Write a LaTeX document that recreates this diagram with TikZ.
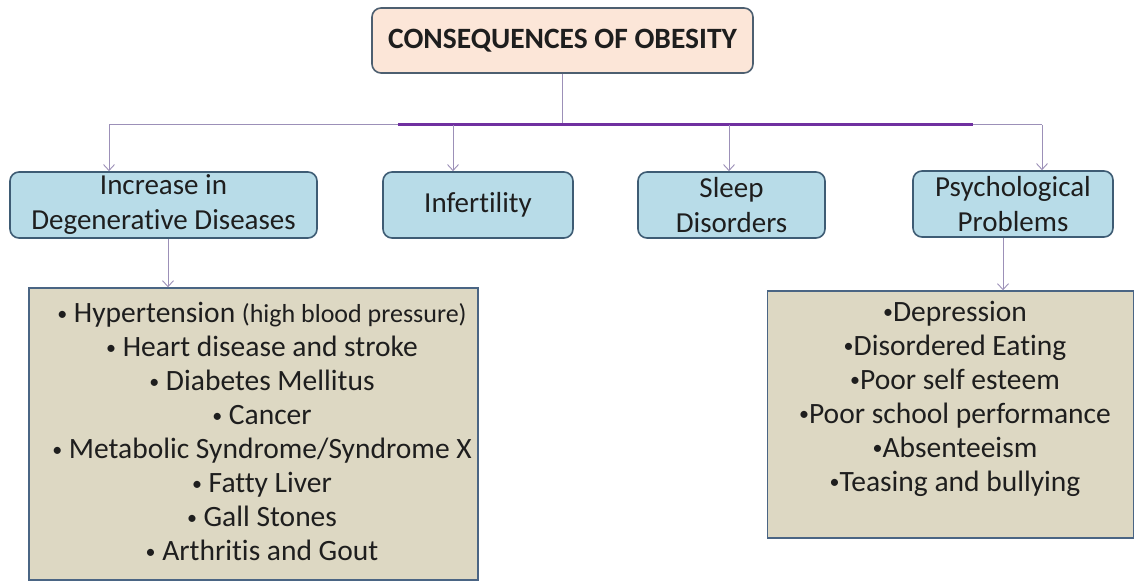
\documentclass[tikz,border=0pt]{standalone}
\usepackage{fontspec}
\setmainfont{Carlito}[Ligatures=NoCommon]
\usetikzlibrary{arrows.meta}
\definecolor{peach}{HTML}{FCE6D8}
\definecolor{slate}{HTML}{4D5F70}
\definecolor{skyfill}{HTML}{B8DCE8}
\definecolor{skyline}{HTML}{3E5C74}
\definecolor{tanfill}{HTML}{DDD8C3}
\definecolor{tanline}{HTML}{4A6584}
\definecolor{connline}{HTML}{9C90B8}
\definecolor{barpurple}{HTML}{7030A0}
\definecolor{inkc}{HTML}{1E1E1E}
\newcommand{\bul}{\raisebox{2.5pt}{\fontsize{20}{34}\selectfont•}}
\tikzset{
  titlebox/.style={draw=slate, line width=1.6pt, fill=peach, rounded corners=9pt,
    minimum width=381pt, minimum height=65pt, inner sep=0pt, text=inkc,
    font=\fontsize{29.5}{34}\selectfont\bfseries},
  catbox/.style={draw=skyline, line width=1.6pt, fill=skyfill, rounded corners=9pt,
    minimum height=66pt, inner sep=0pt, align=center, text=inkc,
    font=\fontsize{29}{35}\selectfont},
  listbox/.style={draw=tanline, line width=1.4pt, fill=tanfill, inner sep=0pt},
  listtext/.style={align=center, text=inkc, inner sep=0pt,
    font=\fontsize{29.5}{34}\selectfont},
  conn/.style={draw=connline, line width=1pt},
  arr/.style={conn, -{Straight Barb[length=6pt,width=11pt,line width=0.9pt]}},
  bar/.style={draw=barpurple, line width=3pt}
}
\begin{document}
\begin{tikzpicture}[x=1pt,y=-1pt]
\useasboundingbox (0,0) rectangle (1135,583);
\fill[white] (0,0) rectangle (1135,583);

\node[titlebox] (top) at (562.5,40.5) {CONSEQUENCES OF OBESITY};

\node[catbox, minimum width=307pt] (inc) at (163.5,205) {Increase in\\Degenerative Diseases};
\node[catbox, minimum width=190pt] (inf) at (478,205) {Infertility};
\node[catbox, minimum width=187pt] (sleep) at (731.5,205) {Sleep\\Disorders};
\node[catbox, minimum width=200pt] (psych) at (1013,204) {Psychological\\Problems};

\node[listbox, minimum width=449pt, minimum height=292pt] (listL) at (253.5,434) {};
\node[listbox, minimum width=366pt, minimum height=247pt] (listR) at (950.5,414.5) {};

\node[listtext] (listLtext) at (262,431.5) {%
\bul\ Hypertension {\fontsize{26}{34}\selectfont(high blood pressure)}\\
\bul\ Heart disease and stroke\\
\bul\ Diabetes Mellitus\\
\bul\ Cancer\\
\bul\ Metabolic Syndrome/Syndrome X\\
\bul\ Fatty Liver\\
\bul\ Gall Stones\\
\bul\ Arthritis and Gout};

\node[listtext] (listRtext) at (955,398.5) {%
\bul Depression\\
\bul Disordered Eating\\
\bul Poor self esteem\\
\bul Poor school performance\\
\bul Absenteeism\\
\bul Teasing and bullying};

% connectors
\coordinate (jn) at (562,125);
\coordinate (bL) at (109,125);
\coordinate (b2) at (453,125);
\coordinate (b3) at (729,125);
\coordinate (bR) at (1042,125);
\coordinate (pL) at (398,125);
\coordinate (pR) at (973,125);

\draw[conn] (top.south -| jn) -- (jn);
\draw[conn] (bL) -- (bR);
\draw[bar] (pL) -- (pR);

\draw[arr] (bL) -- (bL |- inc.north);
\draw[arr] (b2) -- (b2 |- inf.north);
\draw[arr] (b3) -- (b3 |- sleep.north);
\draw[arr] (bR) -- (bR |- psych.north);

\coordinate (dL) at (168,0);
\coordinate (dR) at (1003,0);
\draw[arr] (dL |- inc.south) -- (dL |- listL.north);
\draw[arr] (dR |- psych.south) -- (dR |- listR.north);
\end{tikzpicture}
\end{document}
